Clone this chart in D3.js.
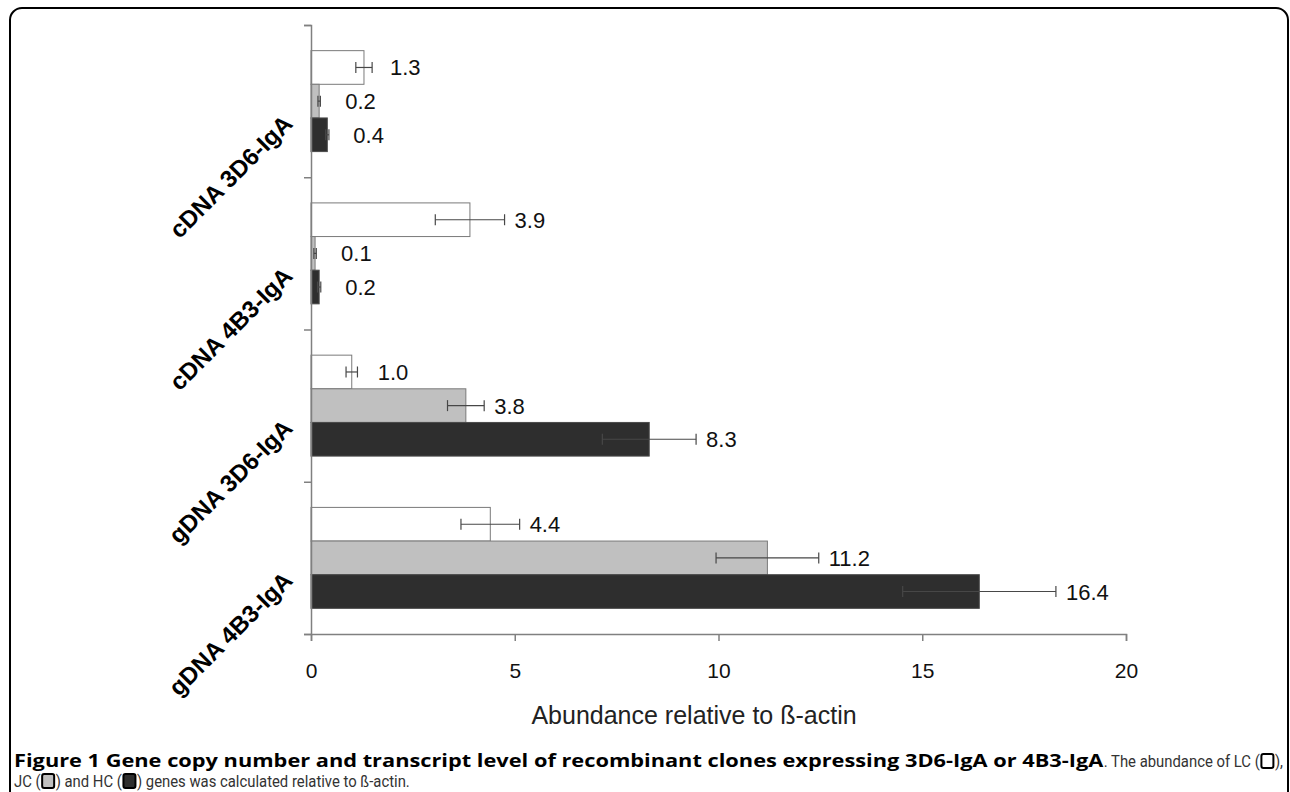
<!DOCTYPE html>
<meta charset="utf-8">
<script src="https://d3js.org/d3.v7.min.js"></script>
<style>
  body { margin: 0; background: #fff; }
  text { font-family: "Liberation Sans", Arial, sans-serif; }
</style>
<div id="chart"></div>
<script>

    // data
    var categories = ["cDNA 3D6-IgA", "cDNA 4B3-IgA", "gDNA 3D6-IgA", "gDNA 4B3-IgA"];
    var series = ["LC", "JC", "HC"];
    var lcValues = [1.3, 3.9, 1.0, 4.4];
    var jcValues = [0.2, 0.1, 3.8, 11.2];
    var hcValues = [0.4, 0.2, 8.3, 16.4];
    var lcErrors = [0.2, 0.85, 0.14, 0.72];
    var jcErrors = [0.03, 0.03, 0.45, 1.26];
    var hcErrors = [0.04, 0.04, 1.15, 1.88];
    var xTicks = [0, 5, 10, 15, 20];

    var colors = { LC: "#ffffff", JC: "#c0c0c0", HC: "#2e2e2e" };

    var data = [];
    categories.forEach(function (c, i) {
        data.push({ cat: c, s: "LC", v: lcValues[i], e: lcErrors[i] });
        data.push({ cat: c, s: "JC", v: jcValues[i], e: jcErrors[i] });
        data.push({ cat: c, s: "HC", v: hcValues[i], e: hcErrors[i] });
    });

    var W = 1290, H = 792;
    var plot = { left: 311, right: 1126, top: 25, bottom: 634 };

    var svg = d3.select("#chart").append("svg")
        .attr("width", W)
        .attr("height", H);

    // rounded frame, bottom runs off the page
    svg.append("rect")
        .attr("x", 10).attr("y", 8)
        .attr("width", 1278).attr("height", 820)
        .attr("rx", 12).attr("ry", 12)
        .attr("fill", "none")
        .attr("stroke", "#000")
        .attr("stroke-width", 2);

    var x = d3.scaleLinear().domain([0, 20]).range([plot.left, plot.right]);

    var y0 = d3.scaleBand()
        .domain(categories)
        .range([plot.top, plot.bottom])
        .paddingInner(0.337)
        .paddingOuter(0.1685);

    var y1 = d3.scaleBand()
        .domain(series)
        .range([0, y0.bandwidth()]);

    // bars
    svg.append("g").selectAll("rect")
        .data(data)
        .enter()
        .append("rect")
        .attr("x", x(0))
        .attr("y", function (d) { return y0(d.cat) + y1(d.s); })
        .attr("width", function (d) { return x(d.v) - x(0); })
        .attr("height", y1.bandwidth())
        .attr("fill", function (d) { return colors[d.s]; })
        .attr("stroke", function (d) { return d.s == "HC" ? "#4a4a4a" : "#7a7a7a"; })
        .attr("stroke-width", 1);

    // error bars
    var err = svg.append("g")
        .attr("stroke", "#474747")
        .attr("stroke-width", 1.2);
    data.forEach(function (d) {
        var cy = y0(d.cat) + y1(d.s) + y1.bandwidth() / 2;
        err.append("line")
            .attr("x1", x(d.v - d.e)).attr("x2", x(d.v + d.e))
            .attr("y1", cy).attr("y2", cy);
        [d.v - d.e, d.v + d.e].forEach(function (xv) {
            err.append("line")
                .attr("x1", x(xv)).attr("x2", x(xv))
                .attr("y1", cy - 5.5).attr("y2", cy + 5.5);
        });
    });

    // value labels
    svg.append("g").selectAll("text")
        .data(data)
        .enter()
        .append("text")
        .attr("x", function (d) { return Math.max(x(d.v + d.e) + 10, x(d.v) + 26); })
        .attr("y", function (d) { return y0(d.cat) + y1(d.s) + y1.bandwidth() / 2 + 8; })
        .attr("font-size", "22px")
        .attr("fill", "#111")
        .text(function (d) { return d3.format(".1f")(d.v); });

    // x axis
    var xAxis = svg.append("g")
        .attr("transform", "translate(0," + plot.bottom + ")")
        .call(d3.axisBottom(x).tickValues(xTicks).tickSize(7).tickPadding(22));
    xAxis.selectAll("text").attr("font-size", "21px").attr("fill", "#111")
        .style("font-family", "'Liberation Sans', Arial, sans-serif");

    // y axis, ticks between the groups
    var yTick = d3.scaleLinear().domain([0, categories.length]).range([plot.top, plot.bottom]);
    svg.append("g")
        .attr("transform", "translate(" + plot.left + ",0)")
        .call(d3.axisLeft(yTick).tickValues(d3.range(categories.length + 1)).tickSize(7).tickFormat(""));

    svg.selectAll(".domain, .tick line")
        .attr("stroke", "#808080")
        .attr("stroke-width", 1.5);

    // rotated category labels
    svg.append("g").selectAll("text")
        .data(categories)
        .enter()
        .append("text")
        .attr("transform", function (d) {
            return "translate(" + (plot.left - 17) + "," + (y0(d) + y0.bandwidth() / 2 + 24) + ") rotate(-45)";
        })
        .attr("text-anchor", "end")
        .attr("font-size", "24px")
        .attr("font-weight", "bold")
        .attr("fill", "#000")
        .text(function (d) { return d; });

    // axis title
    svg.append("text")
        .attr("x", 694)
        .attr("y", 724)
        .attr("text-anchor", "middle")
        .attr("font-size", "25px")
        .attr("fill", "#222")
        .text("Abundance relative to ß-actin");

    // caption with inline legend boxes
    var caption = [
        [{ t: "Figure 1 Gene copy number and transcript level of recombinant clones expressing 3D6-IgA or 4B3-IgA", b: true },
         { t: ". The abundance of LC (" }, { box: colors.LC }, { t: ")," }],
        [{ t: "JC (" }, { box: colors.JC }, { t: ") and HC (" }, { box: colors.HC },
         { t: ") genes was calculated relative to ß-actin." }]
    ];
    var baselines = [767, 787];
    var boxW = 15;
    var cap = svg.append("g");

    // first pass: natural widths
    caption.forEach(function (line) {
        line.forEach(function (seg) {
            if (seg.box) return;
            var t = cap.append("text")
                .attr("font-size", seg.b ? "18px" : "17px")
                .attr("font-weight", seg.b ? "bold" : "normal")
                .attr("fill", seg.b ? "#000" : "#333")
                .style("font-family", seg.b ? "'Open Sans', sans-serif" : "Roboto, sans-serif")
                .style("white-space", "pre")
                .text(seg.t);
            seg.node = t;
            seg.w = t.node().getComputedTextLength();
        });
    });
    function sum(line, bold) {
        return d3.sum(line, function (s) { return s.box ? 0 : (!!s.b == bold ? s.w : 0); });
    }
    function boxes(line) { return line.filter(function (s) { return s.box; }).length * boxW; }
    // regular text is narrow in the figure, bold text less so
    var sr = (410 - 14 - boxes(caption[1])) / sum(caption[1], false);
    var sb = (1283 - 14 - boxes(caption[0]) - sum(caption[0], false) * sr) / sum(caption[0], true);

    caption.forEach(function (line, li) {
        var cx = 14;
        line.forEach(function (seg) {
            if (seg.box) {
                cap.append("rect")
                    .attr("x", cx + 1.5).attr("y", baselines[li] - 13)
                    .attr("width", 12).attr("height", 14)
                    .attr("rx", 2)
                    .attr("fill", seg.box)
                    .attr("stroke", "#000")
                    .attr("stroke-width", 2);
                cx += boxW;
            } else {
                var s = seg.b ? sb : sr;
                seg.node.attr("transform", "translate(" + cx + "," + baselines[li] + ") scale(" + s + ",1)");
                cx += seg.w * s;
            }
        });
    });

</script>
